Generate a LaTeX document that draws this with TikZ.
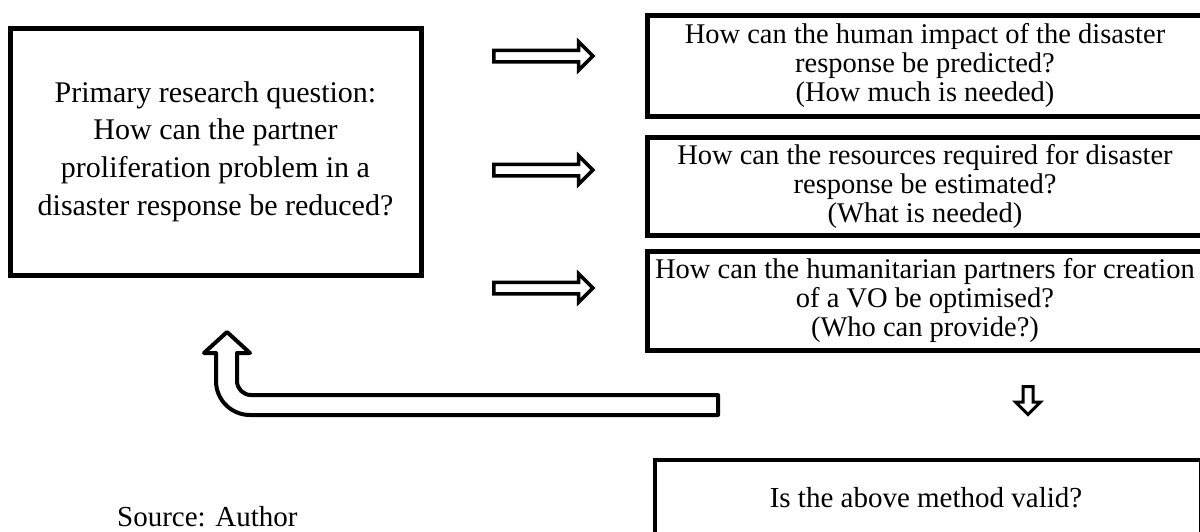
\documentclass[tikz,border=0pt]{standalone}
\usepackage{fontspec}
\setmainfont{Liberation Serif}
\usetikzlibrary{shapes.arrows}
\begin{document}
\begin{tikzpicture}[x=1pt,y=-1pt,
  mainbox/.style={draw, line width=5pt, minimum width=411pt, minimum height=247pt,
    inner sep=0pt, align=center, font=\fontsize{30}{37.7}\selectfont},
  subbox/.style={draw, line width=5pt, minimum width=556pt, inner sep=0pt,
    align=center, font=\fontsize{28.5}{29}\selectfont},
  plainbox/.style={draw, line width=4.5pt, inner sep=0pt},
  plaintext/.style={inner sep=0pt, font=\fontsize{29}{34}\selectfont},
  rarrow/.style={single arrow, draw, line width=3.5pt, minimum height=99pt,
    minimum width=25pt, inner sep=4pt, single arrow head extend=8.5pt,
    single arrow tip angle=90},
  darrow/.style={single arrow, draw, line width=3pt, minimum height=28pt,
    minimum width=22pt, inner sep=3.5pt, single arrow head extend=7.5pt,
    single arrow tip angle=90, shape border rotate=270},
  uarrow/.style={draw, line width=4pt, line join=round}
]
\useasboundingbox (0,0) rectangle (1200,531);
\clip (0,0) rectangle (1200,531);

% primary research question
\node[mainbox] (main) at (215.5,151.5)
  {Primary research question:\\How can the partner\\proliferation problem in a\\disaster response be reduced?};

% sub-questions
\node[subbox, minimum height=101pt] (q1) at (925,65.5)
  {How can the human impact of the disaster\\response be predicted?\\(How much is needed)};
\node[subbox, minimum height=98pt] (q2) at (925,186)
  {How can the resources required for disaster\\response be estimated?\\(What is needed)};
\node[subbox, minimum height=99pt] (q3) at (925,300.5)
  {How can the humanitarian partners for creation\\of a VO be optimised?\\(Who can provide?)};

% validation box
\node[plainbox, minimum width=546pt, minimum height=140pt] (valid) at (928,530) {};
\node[plaintext, anchor=base] (validq) at (926,507) {Is the above method valid?};

% source note
\node[plaintext, anchor=base west] (src) at (117,526) {Source: Author};

% arrows from the primary question to each sub-question
\node[rarrow] (a1) at (540.5,56) {};
\node[rarrow] (a2) at (540.5,170) {};
\node[rarrow] (a3) at (540.5,288) {};

% arrow down to the validation step
\node[darrow] (a4) at (1028,398) {};

% return arrow back to the primary question
\draw[uarrow] (718,395) -- (251,395) arc[start angle=90,end angle=180,radius=14]
  -- (237,353) -- (250,353) -- (227,332) -- (204,353) -- (216,353) -- (216,381)
  arc[start angle=180,end angle=90,radius=34] -- (718,415) -- cycle;
\end{tikzpicture}
\end{document}
